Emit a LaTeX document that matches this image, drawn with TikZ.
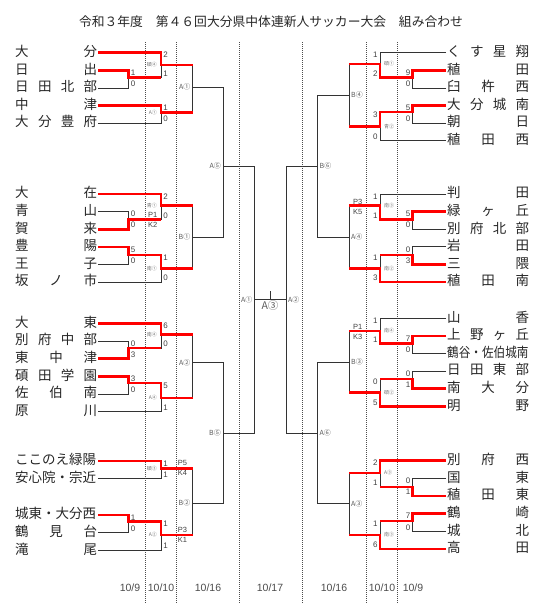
\documentclass[tikz,border=0pt]{standalone}
\usepackage{fontspec}
\setmainfont{Noto Sans CJK JP}
\newfontfamily\latinf{Liberation Sans}
\tikzset{team/.style={font=\fontsize{13.5}{14}\selectfont, text=black!85, inner xsep=1pt, inner ysep=0pt, text height=0.88em, text depth=0.12em},
         bline/.style={black!80, line width=0.65pt},
         win/.style={red, line width=2.6pt},
         score/.style={font=\latinf\fontsize{8}{8}\selectfont, text=black!75, inner sep=0pt},
         venue/.style={font=\fontsize{5}{5}\selectfont, text=black!55, inner sep=0pt},
         rnd/.style={font=\fontsize{7}{7}\selectfont, text=black!65, inner sep=0pt},
         pk/.style={font=\latinf\fontsize{7.5}{8}\selectfont, text=black!75, inner sep=0pt, anchor=west},
         day/.style={font=\latinf\fontsize{10.5}{11}\selectfont, text=black!70},
         datesep/.style={black!70, line width=0.5pt, dash pattern=on 0.8pt off 1.2pt}}
\newcommand{\lmatch}[7]{%
  \coordinate (#1) at (#2,#4);
  \node[score, anchor=west] at (#2+2.2,#3+2.5) {#6};
  \node[score, anchor=west] at (#2+2.2,#5-4) {#7};}
\newcommand{\rmatch}[7]{%
  \coordinate (#1) at (#2,#4);
  \node[score, anchor=east] at (#2-2.2,#3+2.5) {#6};
  \node[score, anchor=east] at (#2-2.2,#5-4) {#7};}
\begin{document}
\begin{tikzpicture}[x=1pt, y=-1pt]
\useasboundingbox (0,0) rectangle (543,603);
\node[font=\fontsize{12.8}{13}\selectfont, text=black!85] (title) at (271,22) {令和３年度　第４６回大分県中体連新人サッカー大会　組み合わせ};
\foreach \x in {145,176.5,239,302,366,397}
  \draw[datesep] (\x,42) -- (\x,603);
\foreach \n/\y/\t in {l1/52.7/大 分, l2/70.3/日 出, l3/87.9/日 田 北 部, l4/105.5/中 津, l5/123.1/大 分 豊 府,
    l6/194/大 在, l7/211.6/青 山, l8/229.2/賀 来, l9/246.8/豊 陽, l10/264.4/王 子, l11/282/坂 ノ 市,
    l12/323.5/大 東, l13/341.1/別 府 中 部, l14/358.7/東 中 津, l15/376.3/碩 田 学 園, l16/393.9/佐 伯 南, l17/411.5/原 川,
    l18/461/ここのえ緑陽, l19/478.6/安心院・宗近, l20/515/城東・大分西, l21/532.6/鶴 見 台, l22/550.2/滝 尾}
  \node[team, anchor=west] (\n) at (14,\y) {\makebox[82pt][s]{\t}};
\foreach \n/\y/\t in {r1/52.7/く す 星 翔, r2/70.3/稙 田, r3/87.9/臼 杵 西, r4/105.5/大 分 城 南, r5/123.1/朝 日, r6/140.7/稙 田 西,
    r7/194/判 田, r8/211.6/緑 ヶ 丘, r9/229.2/別 府 北 部, r10/246.8/岩 田, r11/264.4/三 隈, r12/282/稙 田 南,
    r13/318.3/山 香, r14/335.9/上 野 ヶ 丘, r16/371.1/日 田 東 部, r17/388.7/南 大 分, r18/406.3/明 野,
    r19/460.5/別 府 西, r20/478.2/国 東, r21/495.9/稙 田 東, r22/513.6/鶴 崎, r23/531.3/城 北, r24/549/高 田}
  \node[team, anchor=west] (\n) at (446,\y) {\makebox[82pt][s]{\t}};
\node[team, anchor=west] (r15) at (446,353.5) {\makebox[82pt][s]{\scalebox{0.86}[1]{鶴谷・佐伯城南}}};

\lmatch{m1}{128.5}{70.3}{77.5}{87.9}{1}{0}
\lmatch{m2}{161}{52.7}{65}{77.5}{2}{1}
\lmatch{m3}{161}{105.5}{112.5}{123.1}{1}{0}
\coordinate (m4) at (192.5,87);
\lmatch{m5}{128.5}{211.6}{219.3}{229.2}{0}{0}
\lmatch{m6}{161}{194}{205.5}{219.3}{2}{0}
\lmatch{m7}{128.5}{246.8}{255}{264.4}{5}{0}
\lmatch{m8}{161}{255}{268.3}{282}{1}{0}
\coordinate (m9) at (192.5,237);
\lmatch{m10}{128.5}{341.1}{348}{358.7}{0}{3}
\lmatch{m11}{161}{323.5}{334.5}{348}{6}{0}
\lmatch{m12}{128.5}{376.3}{383}{393.9}{3}{0}
\lmatch{m13}{161}{383}{398}{411.5}{5}{1}
\coordinate (m14) at (192.5,362.5);
\lmatch{m15}{161}{461}{468.3}{478.6}{1}{1}
\lmatch{m16}{128.5}{515}{521.7}{532.6}{1}{0}
\lmatch{m17}{161}{521.7}{535}{550.2}{1}{1}
\coordinate (m18) at (192.5,503);
\coordinate (m19) at (223,166);
\coordinate (m20) at (223,433);
\coordinate (m21) at (254.5,299.5);

\rmatch{n1}{412.7}{70.3}{77.3}{87.9}{9}{0}
\rmatch{n2}{380}{52.7}{64}{77.3}{1}{2}
\rmatch{n3}{412.7}{105.5}{112}{123.1}{5}{0}
\rmatch{n4}{380}{112}{126.5}{140.7}{3}{0}
\coordinate (n5) at (349,95);
\rmatch{n6}{412.7}{211.6}{219.3}{229.2}{5}{0}
\rmatch{n7}{380}{194}{205.5}{219.3}{1}{1}
\rmatch{n8}{412.7}{246.8}{255}{264.4}{0}{3}
\rmatch{n9}{380}{255}{268.3}{282}{1}{3}
\coordinate (n10) at (349,237);
\rmatch{n11}{412.7}{335.9}{343.3}{353.5}{7}{0}
\rmatch{n12}{380}{318.3}{331}{343.3}{1}{1}
\rmatch{n13}{412.7}{371.1}{379}{388.7}{0}{1}
\rmatch{n14}{380}{379}{392.3}{406.3}{0}{5}
\coordinate (n15) at (349,362);
\rmatch{n16}{412.7}{478.2}{487}{495.9}{0}{1}
\rmatch{n17}{380}{460.5}{473}{487}{2}{1}
\rmatch{n18}{412.7}{513.6}{521}{531.3}{7}{0}
\rmatch{n19}{380}{521}{535}{549}{1}{6}
\coordinate (n20) at (349,503.5);
\coordinate (n21) at (317.5,166);
\coordinate (n22) at (317.5,433);
\coordinate (n23) at (286,299.5);
\coordinate (fin) at (270,299.5);

\foreach \a/\b in {l1/m2, l2/m1, l3/m1, l4/m3, l5/m3, l6/m6, l7/m5, l8/m5, l9/m7, l10/m7, l11/m8,
    l12/m11, l13/m10, l14/m10, l15/m12, l16/m12, l17/m13, l18/m15, l19/m15, l20/m16, l21/m16, l22/m17}
  \draw[bline] (\a.east) -| (\b);
\foreach \a/\b in {m1/m2, m2/m4, m3/m4, m5/m6, m6/m9, m7/m8, m8/m9, m10/m11, m11/m14, m12/m13, m13/m14,
    m16/m17, m15/m18, m17/m18, m4/m19, m9/m19, m14/m20, m18/m20, m19/m21, m20/m21}
  \draw[bline] (\a) -| (\b);
\foreach \a/\b in {r1/n2, r2/n1, r3/n1, r4/n3, r5/n3, r6/n4, r7/n7, r8/n6, r9/n6, r10/n8, r11/n8, r12/n9,
    r13/n12, r14/n11, r15/n11, r16/n13, r17/n13, r18/n14, r19/n17, r20/n16, r21/n16, r22/n18, r23/n18, r24/n19}
  \draw[bline] (\a.west) -| (\b);
\foreach \a/\b in {n1/n2, n2/n5, n3/n4, n4/n5, n6/n7, n7/n10, n8/n9, n9/n10, n11/n12, n12/n15, n13/n14, n14/n15,
    n16/n17, n17/n20, n18/n19, n19/n20, n5/n21, n10/n21, n15/n22, n20/n22, n21/n23, n22/n23}
  \draw[bline] (\a) -| (\b);
\draw[bline] (m21) -- (n23);
\draw[bline] (fin) -- ++(0,-9);

\draw[win] (l1.east) -| (m2) -- (m2 -| m4);
\draw[win] (l2.east) -| (m1) -- (m1 -| m2);
\draw[win] (l4.east) -| (m3) -- (m3 -| m4);
\draw[win] (l6.east) -| (m6) -- (m6 -| m9);
\draw[win] (l8.east) -| (m5) -- (m5 -| m6);
\draw[win] (l9.east) -| (m7) -| (m8) -- (m8 -| m9);
\draw[win] (l12.east) -| (m11) -- (m11 -| m14);
\draw[win] (l14.east) -| (m10) -- (m10 -| m11);
\draw[win] (l15.east) -| (m12) -| (m13) -- (m13 -| m14);
\draw[win] (l18.east) -| (m15) -- (m15 -| m18);
\draw[win] (l20.east) -| (m16) -| (m17) -- (m17 -| m18);
\draw[win] (r2.west) -| (n1) -| (n2) -- (n2 -| n5);
\draw[win] (r4.west) -| (n3) -| (n4) -- (n4 -| n5);
\draw[win] (r8.west) -| (n6) -| (n7) -- (n7 -| n10);
\draw[win] (r11.west) -| (n8) -- (n8 -| n9);
\draw[win] (r12.west) -| (n9) -- (n9 -| n10);
\draw[win] (r14.west) -| (n11) -| (n12) -- (n12 -| n15);
\draw[win] (r17.west) -| (n13) -- (n13 -| n14);
\draw[win] (r18.west) -| (n14) -- (n14 -| n15);
\draw[win] (r19.west) -| (n17) -- (n17 -| n20);
\draw[win] (r21.west) -| (n16) -- (n16 -| n17);
\draw[win] (r22.west) -| (n18) -- (n18 -| n19);
\draw[win] (r24.west) -| (n19) -- (n19 -| n20);

\foreach \m/\t in {m2/碩④, m3/A①, m6/青①, m8/南①, m11/南④, m13/A④, m15/碩③, m17/A②}
  \node[venue, anchor=east] at ([xshift=-4pt]\m) {\t};
\foreach \m/\t in {n2/碩①, n4/青②, n7/南③, n9/南②, n12/南④, n14/碩②, n17/A③, n19/南③}
  \node[venue, anchor=west] at ([xshift=4pt]\m) {\t};
\foreach \m/\t in {m4/A①, m9/B①, m14/A②, m18/B②, m19/A⑤, m20/B⑤, m21/A①}
  \node[rnd, anchor=east] at ([xshift=-2pt]\m) {\t};
\foreach \m/\t in {n5/B④, n10/A④, n15/B③, n20/A③, n21/B⑥, n22/A⑥, n23/A②}
  \node[rnd, anchor=west] at ([xshift=2pt]\m) {\t};
\node[font=\fontsize{10.5}{11}\selectfont, text=black!65, inner sep=0pt] (finlbl) at (270,306) {A③};

\node[pk] (pk1) at (148,214.7) {P1};
\node[pk] (pk2) at (148,225) {K2};
\node[pk] (pk3) at (177.7,462.7) {P5};
\node[pk] (pk4) at (177.7,473) {K4};
\node[pk] (pk5) at (177.7,530) {P3};
\node[pk] (pk6) at (177.7,540) {K1};
\node[pk] (pk7) at (353,202.3) {P3};
\node[pk] (pk8) at (353,211.7) {K5};
\node[pk] (pk9) at (353,326.7) {P1};
\node[pk] (pk10) at (353,336.7) {K3};

\node[day] (d1) at (130,588) {10/9};
\node[day] (d2) at (161,588) {10/10};
\node[day] (d3) at (208,588) {10/16};
\node[day] (d4) at (270,588) {10/17};
\node[day] (d5) at (334,588) {10/16};
\node[day] (d6) at (382,588) {10/10};
\node[day] (d7) at (413,588) {10/9};
\end{tikzpicture}
\end{document}
